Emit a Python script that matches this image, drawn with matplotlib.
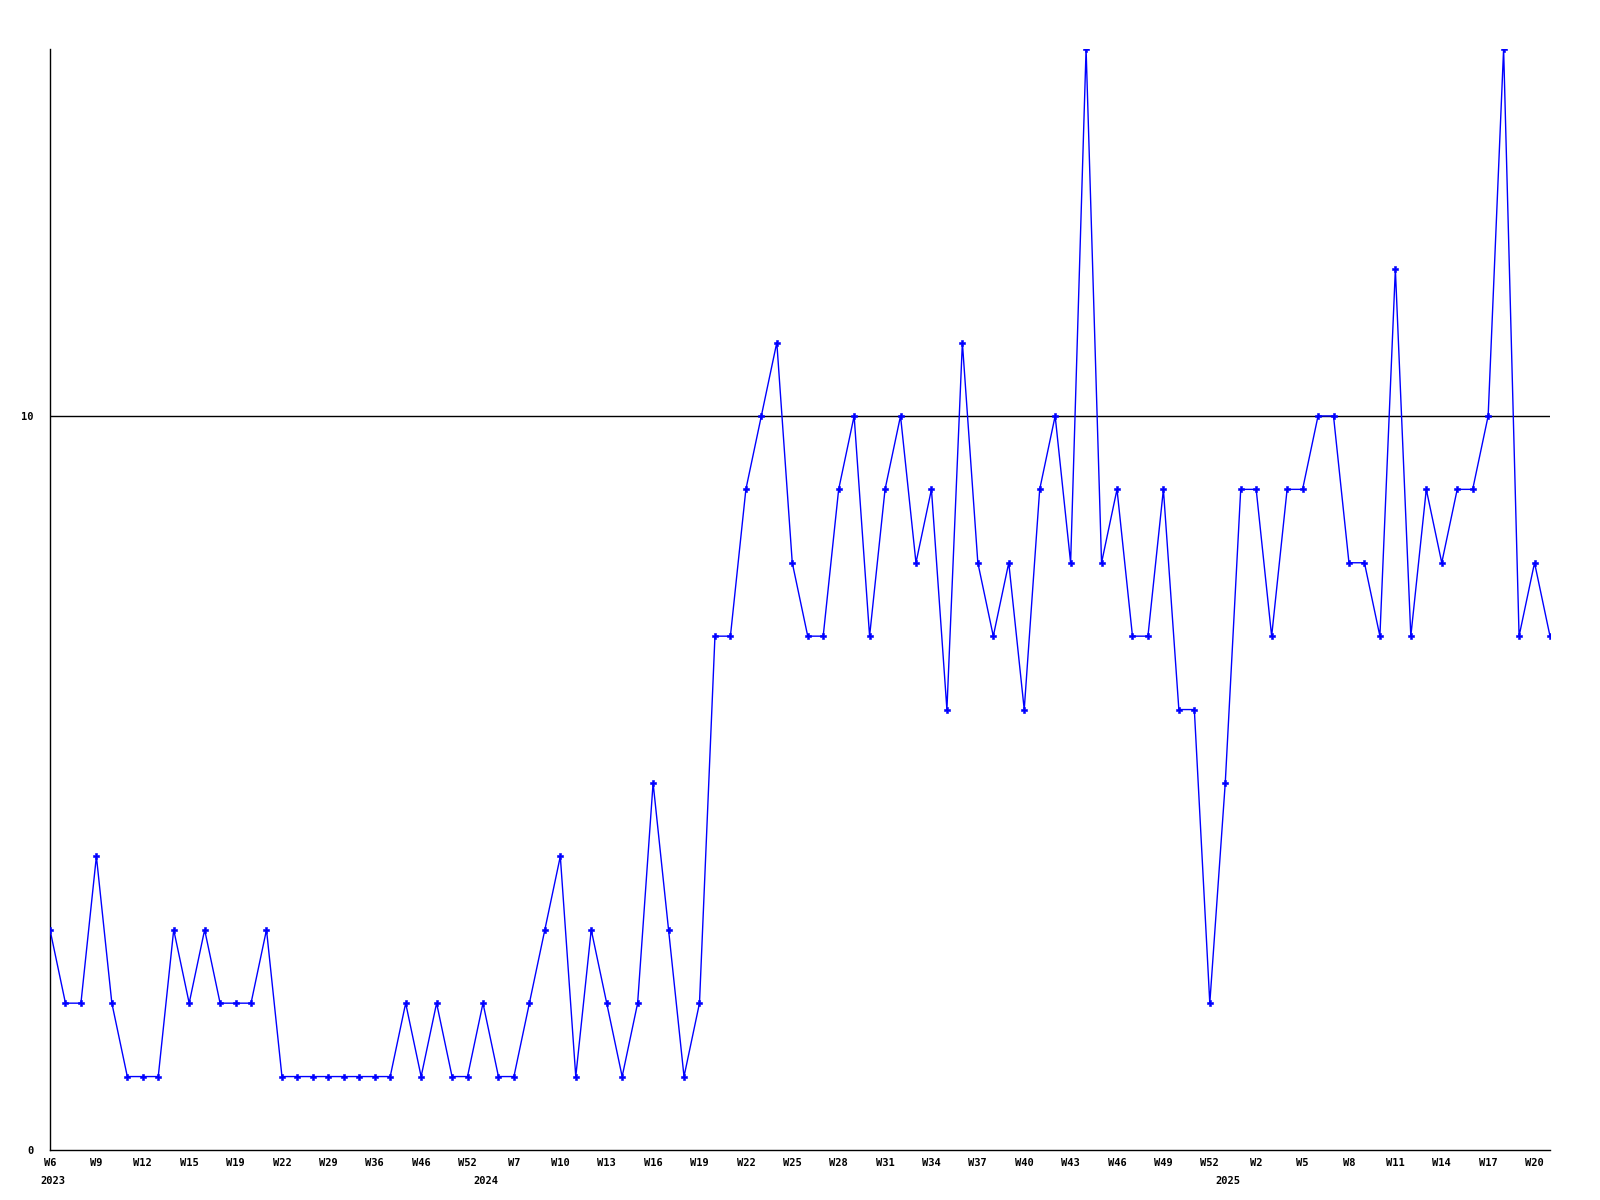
import matplotlib
matplotlib.use('Agg')
import matplotlib.pyplot as plt

# weekly counts, one per data point (98 points)
values = [3, 2, 2, 4, 2, 1, 1, 1, 3, 2,
          3, 2, 2, 2, 3, 1, 1, 1, 1, 1,
          1, 1, 1, 2, 1, 2, 1, 1, 2, 1,
          1, 2, 3, 4, 1, 3, 2, 1, 2, 5,
          3, 1, 2, 7, 7, 9, 10, 11, 8, 7,
          7, 9, 10, 7, 9, 10, 8, 9, 6, 11,
          8, 7, 8, 6, 9, 10, 8, 15, 8, 9,
          7, 7, 9, 6, 6, 2, 5, 9, 9, 7,
          9, 9, 10, 10, 8, 8, 7, 12, 7, 9,
          8, 9, 9, 10, 15, 7, 8, 7]

# labels shown on every third point
week_labels = ['W6', 'W9', 'W12', 'W15', 'W19', 'W22', 'W29', 'W36', 'W46',
               'W52', 'W7', 'W10', 'W13', 'W16', 'W19', 'W22', 'W25', 'W28',
               'W31', 'W34', 'W37', 'W40', 'W43', 'W46', 'W49', 'W52', 'W2',
               'W5', 'W8', 'W11', 'W14', 'W17', 'W20']
year_labels = ['2023', '2024', '2025']
year_index = [0, 28, 76]

y_ticks = [0, 10]

FONT = dict(family='DejaVu Sans Mono', fontweight='bold', fontsize=7.5)

fig = plt.figure(figsize=(16, 12), dpi=100)
ax = fig.add_axes([0.03125, 0.0417, 0.9375, 0.9175])

x = list(range(len(values)))
ax.plot(x, values, color='#0000ff', linewidth=1.0, marker='P',
        markersize=4.5, markeredgewidth=0.4, zorder=3)
ax.axhline(10, color='black', linewidth=1.0, zorder=2)

ax.set_xlim(0, len(values) - 1)
ax.set_ylim(0, 15)

ax.spines['top'].set_visible(False)
ax.spines['right'].set_visible(False)
ax.spines['left'].set_linewidth(1.0)
ax.spines['bottom'].set_linewidth(1.0)

ax.set_yticks(y_ticks)
ax.set_yticklabels([str(t) for t in y_ticks], **FONT)
ax.tick_params(axis='y', length=0, pad=12)

tick_pos = list(range(0, len(values), 3))
ax.set_xticks(tick_pos)
ax.set_xticklabels(week_labels, **FONT)
ax.tick_params(axis='x', length=0, pad=6)

for label, idx in zip(year_labels, year_index):
    ax.annotate(label, xy=(idx, 0), xycoords=('data', 'axes fraction'),
                xytext=(2, -19), textcoords='offset points',
                ha='center', va='top', **FONT)

fig.savefig('out.png', dpi=100)
plt.close(fig)
